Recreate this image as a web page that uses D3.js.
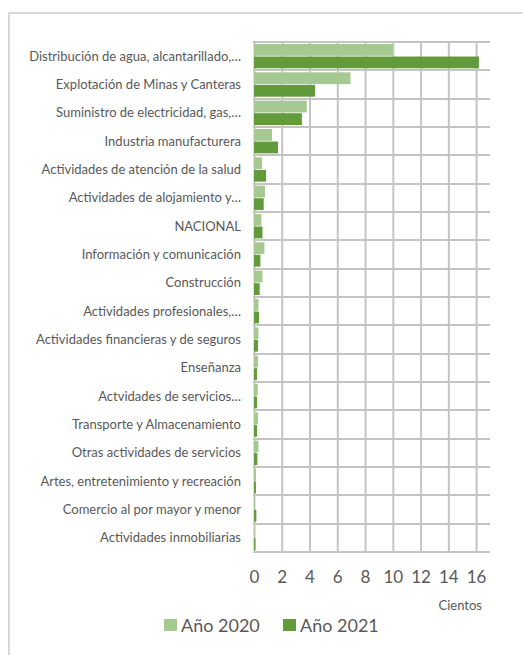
<!DOCTYPE html>
<html>
<head>
<meta charset="utf-8">
<script src="https://cdn.jsdelivr.net/npm/d3@7"></script>
<style>
  body { margin: 0; background: #fff; }
  text { font-family: Lato, "Noto Sans", sans-serif; fill: #595959; }
</style>
</head>
<body>
<svg id="chart"></svg>
<script>
// Sector names, top to bottom
const categories = [
  "Distribución de agua, alcantarillado,…",
  "Explotación de Minas y Canteras",
  "Suministro de electricidad, gas,…",
  "Industria manufacturera",
  "Actividades de atención de la salud",
  "Actividades de alojamiento y…",
  "NACIONAL",
  "Información y comunicación",
  "Construcción",
  "Actividades profesionales,…",
  "Actividades financieras y de seguros",
  "Enseñanza",
  "Actvidades de servicios…",
  "Transporte y Almacenamiento",
  "Otras actividades de servicios",
  "Artes, entretenimiento y recreación",
  "Comercio al por mayor y menor",
  "Actividades inmobiliarias"
]
// values in cientos
const values2020 = [10.0, 6.95, 3.8, 1.3, 0.58, 0.79, 0.53, 0.75, 0.61, 0.32, 0.32, 0.29, 0.27, 0.29, 0.32, 0.14, 0.06, 0.03]
const values2021 = [16.2, 4.4, 3.45, 1.73, 0.87, 0.7, 0.61, 0.46, 0.41, 0.36, 0.29, 0.22, 0.22, 0.22, 0.24, 0.14, 0.17, 0.1]
const xTicks = [0, 2, 4, 6, 8, 10, 12, 14, 16]
const seriesNames = ["Año 2020", "Año 2021"]
const colors = ["#a5c990", "#629b3c"]

let svgWidth = 523, svgHeight = 655
let margin = {left: 254, top: 42, right: 33, bottom: 103} // plot area inside the frame
let gridColor = "#c4c4c4"

let svg = d3.select("#chart")
    .attr("width", svgWidth)
    .attr("height", svgHeight)

// chart frame (runs off the right and bottom of the picture)
svg.append("rect").attr("x", 8).attr("y", 12).attr("width", 2).attr("height", 650).attr("fill", "#d9d9d9")
svg.append("rect").attr("x", 8).attr("y", 12).attr("width", 520).attr("height", 2).attr("fill", "#d9d9d9")

let xScale = d3.scaleLinear()
    .domain([0, 17])
    .range([margin.left, svgWidth - margin.right])

let yScale = d3.scaleBand()
    .domain(categories)
    .range([margin.top, svgHeight - margin.bottom])

let inner = d3.scaleBand()
    .domain(seriesNames)
    .range([0, yScale.bandwidth()])
    .paddingInner(0.06)
    .paddingOuter(0.16)

// vertical grid from an axis with full-height ticks
let gridX = svg.append("g")
    .attr("transform", `translate(0, ${margin.top})`)
    .call(d3.axisBottom(xScale)
        .tickValues(xTicks)
        .tickSize(svgHeight - margin.bottom - margin.top)
        .tickFormat(""))
gridX.select(".domain").remove()
gridX.selectAll("line").attr("stroke", gridColor).attr("stroke-width", 2)

// horizontal grid at band edges
let edges = categories.map(c => yScale(c)).concat([svgHeight - margin.bottom])
svg.append("g").selectAll("rect")
    .data(edges)
    .enter()
    .append("rect")
    .attr("x", xScale(0) - 1)
    .attr("y", d => Math.round(d) - 1)
    .attr("width", xScale(17) - xScale(0) + 1)
    .attr("height", 2)
    .attr("fill", gridColor)

// bars
let series = [values2020, values2021]
series.forEach((vals, i) => {
    svg.append("g").selectAll("rect")
        .data(vals)
        .enter()
        .append("rect")
        .attr("x", xScale(0))
        .attr("y", (d, j) => yScale(categories[j]) + inner(seriesNames[i]))
        .attr("width", d => xScale(d) - xScale(0))
        .attr("height", inner.bandwidth())
        .attr("fill", colors[i])
})

// category labels
svg.append("g").selectAll("text")
    .data(categories)
    .enter()
    .append("text")
    .attr("x", 241)
    .attr("y", d => yScale(d) + yScale.bandwidth() / 2)
    .attr("dy", "0.35em")
    .attr("text-anchor", "end")
    .style("font-size", "13px")
    .text(d => d)

// x axis labels
let xAxis = d3.axisBottom(xScale)
    .tickValues(xTicks)
    .tickSize(0)
    .tickPadding(19)
let gx = svg.append("g")
    .attr("transform", `translate(0, ${svgHeight - margin.bottom})`)
    .call(xAxis)
gx.select(".domain").remove()
gx.selectAll("text")
    .style("font-size", "17px")
    .attr("font-family", null)

svg.append("text")
    .attr("x", 482).attr("y", 610)
    .attr("text-anchor", "end")
    .style("font-size", "13px")
    .text("Cientos")

// legend
let legendX = [164, 283]
seriesNames.forEach((name, i) => {
    let g = svg.append("g").attr("transform", `translate(${legendX[i]}, 619)`)
    g.append("rect")
        .attr("width", 13).attr("height", 12)
        .attr("fill", colors[i])
    g.append("text")
        .attr("x", 17).attr("y", 12.5)
        .style("font-size", "18px")
        .text(name)
})
</script>
</body>
</html>
